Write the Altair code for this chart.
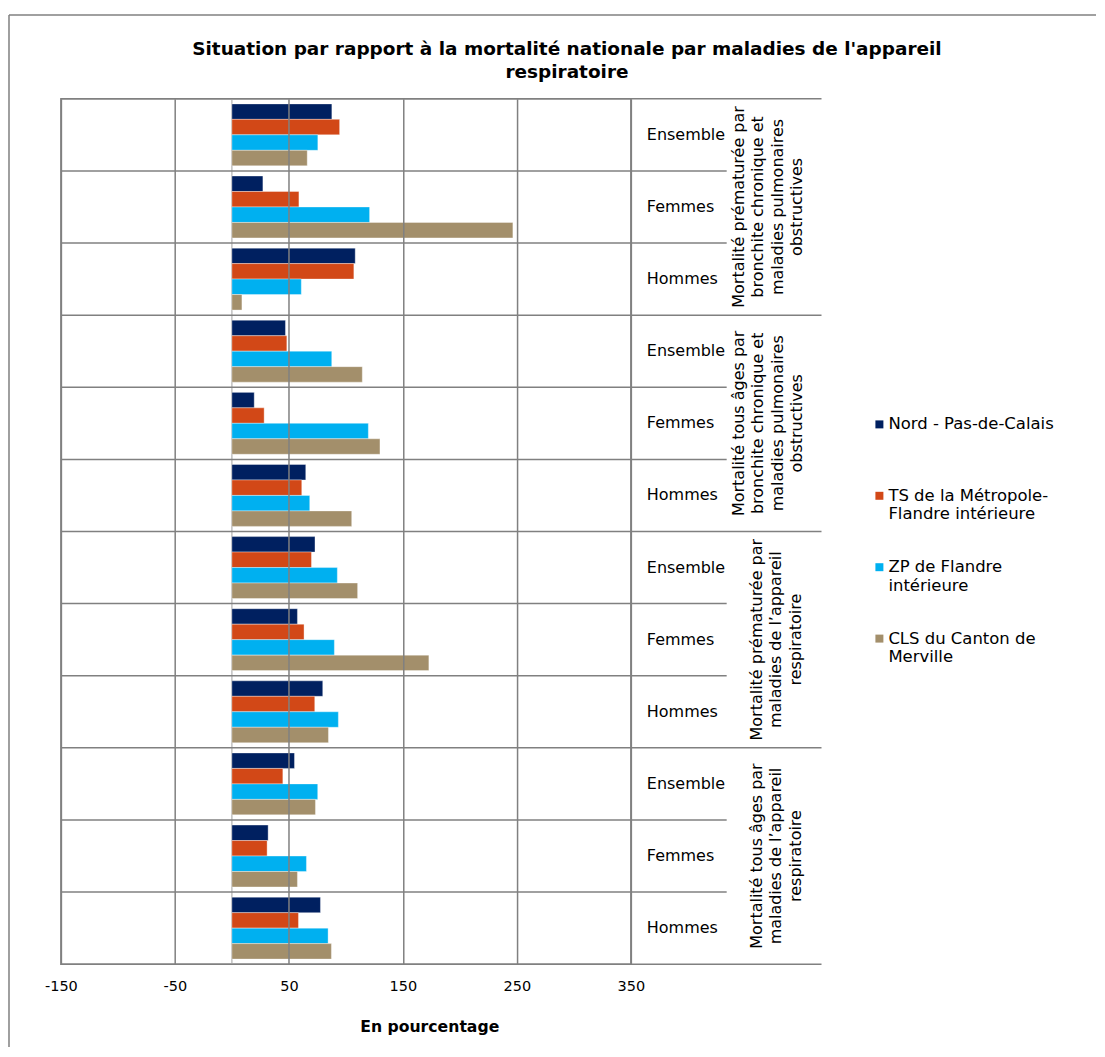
import altair as alt
import pandas as pd

# ---------------- data ----------------
title_lines = ["Situation par rapport à la mortalité nationale par maladies de l'appareil",
               "respiratoire"]
x_title = "En pourcentage"
x_ticks = [-150, -50, 50, 150, 250, 350]

groups = [
    "Mortalité prématurée par bronchite chronique et maladies pulmonaires obstructives",
    "Mortalité tous âges par bronchite chronique et maladies pulmonaires obstructives",
    "Mortalité prématurée par maladies de l’appareil respiratoire",
    "Mortalité tous âges par maladies de l’appareil respiratoire",
]
group_lines = [
    ["Mortalité prématurée par", "bronchite chronique et", "maladies pulmonaires", "obstructives"],
    ["Mortalité tous âges par", "bronchite chronique et", "maladies pulmonaires", "obstructives"],
    ["Mortalité prématurée par", "maladies de l’appareil", "respiratoire"],
    ["Mortalité tous âges par", "maladies de l’appareil", "respiratoire"],
]
subs = ["Ensemble", "Femmes", "Hommes"]

series = ["Nord - Pas-de-Calais",
          "TS de la Métropole-Flandre intérieure",
          "ZP de Flandre intérieure",
          "CLS du Canton de Merville"]
series_lines = [["Nord - Pas-de-Calais"],
                ["TS de la Métropole-", "Flandre intérieure"],
                ["ZP de Flandre", "intérieure"],
                ["CLS du Canton de", "Merville"]]
colors = ["#002060", "#D24817", "#00B0F0", "#A38F6B"]

# values in row order: group1 (Ensemble, Femmes, Hommes), group2, group3, group4
nord = [87.7, 27.2, 108.2, 47.0, 19.6, 64.8, 72.9, 57.5, 79.7, 54.9, 31.8, 77.7]
ts   = [94.5, 58.8, 107.0, 48.2, 28.3, 61.3, 69.8, 63.3, 72.7, 44.7, 30.9, 58.4]
zp   = [75.4, 120.8, 60.9, 87.6, 119.7, 68.3, 92.5, 89.9, 93.4, 75.3, 65.4, 84.4]
cls  = [66.1, 246.5, 8.8, 114.4, 129.9, 105.1, 110.3, 172.8, 84.7, 73.3, 57.5, 87.3]
series_values = [nord, ts, zp, cls]

# ---------------- tables ----------------
row_keys, row_sub, row_group, row_glabel, row_nl = [], [], [], [], []
for gi, g in enumerate(groups):
    for s in subs:
        row_keys.append(f"{g} | {s}")
        row_sub.append(s)
        row_group.append(g)
        row_glabel.append("\n".join(group_lines[gi]))
        row_nl.append(len(group_lines[gi]))
rows_df = pd.DataFrame({"row": row_keys, "sub": row_sub, "group": row_group,
                        "glabel": row_glabel, "nlines": row_nl})

recs = []
for si, sname in enumerate(series):
    for ri, rk in enumerate(row_keys):
        recs.append({"row": rk, "series": sname, "value": series_values[si][ri]})
bars_df = pd.DataFrame(recs)

leg_df = pd.DataFrame({"series": series,
                       "label": ["\n".join(l) for l in series_lines],
                       "idx": list(range(len(series)))})
title_df = pd.DataFrame({"t": ["\n".join(title_lines)]})
one_df = pd.DataFrame({"a": [0]})

FONT = "DejaVu Sans"
GRID = "#808080"
ROWH = 72.25
H = ROWH * len(row_keys)
W = 571
LBL = W            # start of the category-label strip (right of value area)

color_scale = alt.Scale(domain=series, range=colors)
y_scale = alt.Scale(domain=row_keys, paddingInner=0, paddingOuter=0)
x_scale = alt.Scale(domain=[-150, 350], nice=False, zero=False)

# ---------------- value area ----------------
bars = alt.Chart(bars_df).mark_bar(stroke="#ffffff", strokeWidth=0.6, strokeOpacity=0.6).encode(
    x=alt.X("value:Q", scale=x_scale,
            axis=alt.Axis(values=x_ticks, grid=True, gridColor=GRID, gridWidth=1.5,
                          ticks=False, domain=False, labelPadding=15, labelFlush=False,
                          labelExpr="toString(datum.value)",
                          labelFontSize=14.5, labelFont=FONT, labelColor="#000000",
                          title=x_title, titleFont=FONT, titleFontSize=15.7,
                          titleFontWeight="bold", titleColor="#000000",
                          titleX=369, titleY=62, titleBaseline="middle",
                          zindex=1)),
    y=alt.Y("row:N", sort=row_keys, scale=y_scale, axis=None),
    yOffset=alt.YOffset("series:N", sort=series,
                        scale=alt.Scale(domain=series, paddingInner=0, paddingOuter=0.33)),
    color=alt.Color("series:N", scale=color_scale, legend=None),
)

zero_line = alt.Chart(pd.DataFrame({"v": [0]})).mark_rule(color="#c0c0c0", strokeWidth=1.5).encode(
    x=alt.X("v:Q", scale=x_scale)
)

# ---------------- row separators (value area + category label strip) ----------------
ly = alt.Y("row:N", sort=row_keys, scale=y_scale, axis=None)

inner_rules = alt.Chart(rows_df).transform_filter("datum.sub != 'Ensemble'").mark_rule(
    color=GRID, strokeWidth=1.5).encode(
    y=alt.Y("row:N", sort=row_keys, scale=y_scale, axis=None, bandPosition=0),
    x=alt.value(0), x2=alt.value(LBL + 96))
outer_rules = alt.Chart(rows_df).transform_filter("datum.sub == 'Ensemble'").mark_rule(
    color=GRID, strokeWidth=1.5).encode(
    y=alt.Y("row:N", sort=row_keys, scale=y_scale, axis=None, bandPosition=0),
    x=alt.value(0), x2=alt.value(LBL + 191))
bottom_rule = alt.Chart(rows_df).transform_filter(
    alt.FieldEqualPredicate(field="row", equal=row_keys[-1])).mark_rule(
    color=GRID, strokeWidth=1.5).encode(
    y=alt.Y("row:N", sort=row_keys, scale=y_scale, axis=None, bandPosition=1),
    x=alt.value(0), x2=alt.value(LBL + 191))

sub_text = alt.Chart(rows_df).mark_text(
    align="left", baseline="middle", font=FONT, fontSize=16, color="#000000").encode(
    y=ly, x=alt.value(LBL + 16), text="sub:N")

def group_layer(n, xpos):
    return alt.Chart(rows_df).transform_filter(
        f"datum.sub == 'Femmes' && datum.nlines == {n}").mark_text(
        align="center", baseline="middle", font=FONT, fontSize=16, color="#000000",
        angle=270, lineBreak="\n", lineHeight=19.5).encode(
        y=ly, x=alt.value(xpos), text="glabel:N")

row_layer = alt.layer(zero_line, bars, inner_rules, outer_rules, bottom_rule, sub_text,
                      group_layer(4, LBL + 108), group_layer(3, LBL + 126))

# ---------------- legend ----------------
leg_y = alt.Y("idx:Q", scale=alt.Scale(domain=[-4.56, 7.56], reverse=True, nice=False, zero=False),
              axis=None)
leg_sq = alt.Chart(leg_df).mark_square(size=64, opacity=1).encode(
    y=leg_y, x=alt.value(820),
    color=alt.Color("series:N", scale=color_scale, legend=None))
leg_tx = alt.Chart(leg_df).mark_text(
    align="left", baseline="alphabetic", dy=5, font=FONT, fontSize=16.5, color="#000000",
    lineBreak="\n", lineHeight=18.5).encode(
    y=leg_y, x=alt.value(829), text="label:N")
legend_layer = alt.layer(leg_sq, leg_tx)

# ---------------- title and chart-area frame ----------------
title_mark = alt.Chart(title_df).mark_text(
    align="center", baseline="alphabetic", font=FONT, fontSize=18.5, fontWeight="bold",
    color="#000000", lineBreak="\n", lineHeight=23).encode(
    x=alt.value(507), y=alt.value(-44), text="t:N")
frame_top = alt.Chart(one_df).mark_rule(color=GRID, strokeWidth=1.5).encode(
    x=alt.value(-52), x2=alt.value(1037), y=alt.value(-84))
frame_left = alt.Chart(one_df).mark_rule(color=GRID, strokeWidth=1.5).encode(
    x=alt.value(-52), y=alt.value(-84), y2=alt.value(950))

chart = alt.layer(row_layer, legend_layer, title_mark, frame_top, frame_left).resolve_scale(
    y="independent"
).properties(
    width=W, height=H,
    view=alt.ViewBackground(stroke=GRID, strokeWidth=1.5),
    padding={"left": 0, "top": 5, "right": 0, "bottom": 0},
    background="#ffffff",
)

chart.save("out.html", embed_options={"renderer": "svg", "actions": False})
